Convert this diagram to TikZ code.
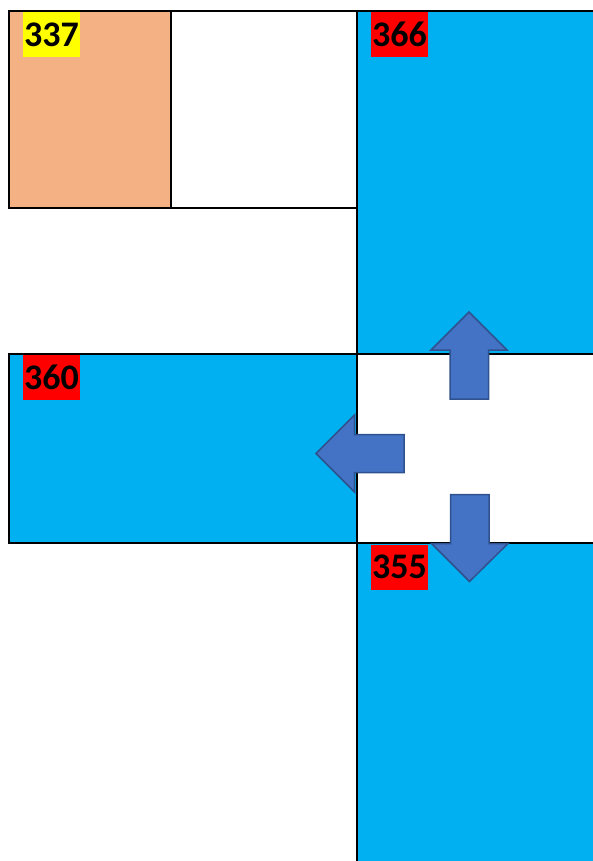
\documentclass[tikz,border=0pt]{standalone}
\usepackage{fontspec}
\setmainfont{Carlito}
\definecolor{cblue}{HTML}{00B0F0}
\definecolor{corange}{HTML}{F4B183}
\definecolor{cred}{HTML}{FF0000}
\definecolor{cyel}{HTML}{FFFF00}
\definecolor{afill}{HTML}{4472C4}
\definecolor{aline}{HTML}{2F528F}
\begin{document}
\begin{tikzpicture}[x=1pt,y=-1pt,
  grid/.style={draw=black,line width=2pt},
  tag/.style={inner sep=0pt,minimum width=57pt,minimum height=45pt,font=\fontsize{36}{40}\selectfont\bfseries,text=black},
  blk/.style={fill=afill,draw=aline,line width=1.5pt,line join=miter}]
\useasboundingbox (0,0) rectangle (593,861);
% fills
\fill[corange] (9,11) rectangle (171,208);
\fill[cblue] (357,11) rectangle (593,354);
\fill[cblue] (9,354) rectangle (357,543);
\fill[cblue] (357,543) rectangle (593,861);
% lines
\draw[grid] (9,11) -- (593,11);
\draw[grid] (9,10) -- (9,208) -- (357,208);
\draw[grid] (171,11) -- (171,208);
\draw[grid] (357,10) -- (357,861);
\draw[grid] (9,354) -- (593,354);
\draw[grid] (9,353) -- (9,543) -- (593,543);
% labels
\node[tag,fill=cyel] (l337) at (51.5,34.5) {337};
\node[tag,fill=cred] (l366) at (399.5,34.5) {366};
\node[tag,fill=cred] (l360) at (51.5,377) {360};
\node[tag,fill=cred] (l355) at (399.5,567) {355};
% arrows
\draw[blk] (469,312) -- (507,350) -- (488.5,350) -- (488.5,399) -- (450,399) -- (450,350) -- (431,350) -- cycle;
\draw[blk] (316,453.5) -- (354.5,415) -- (354.5,434.5) -- (404,434.5) -- (404,472.5) -- (354.5,472.5) -- (354.5,492) -- cycle;
\draw[blk] (469.5,581.5) -- (508,543.5) -- (489,543.5) -- (489,494.5) -- (450.5,494.5) -- (450.5,543.5) -- (431.5,543.5) -- cycle;
\end{tikzpicture}
\end{document}
